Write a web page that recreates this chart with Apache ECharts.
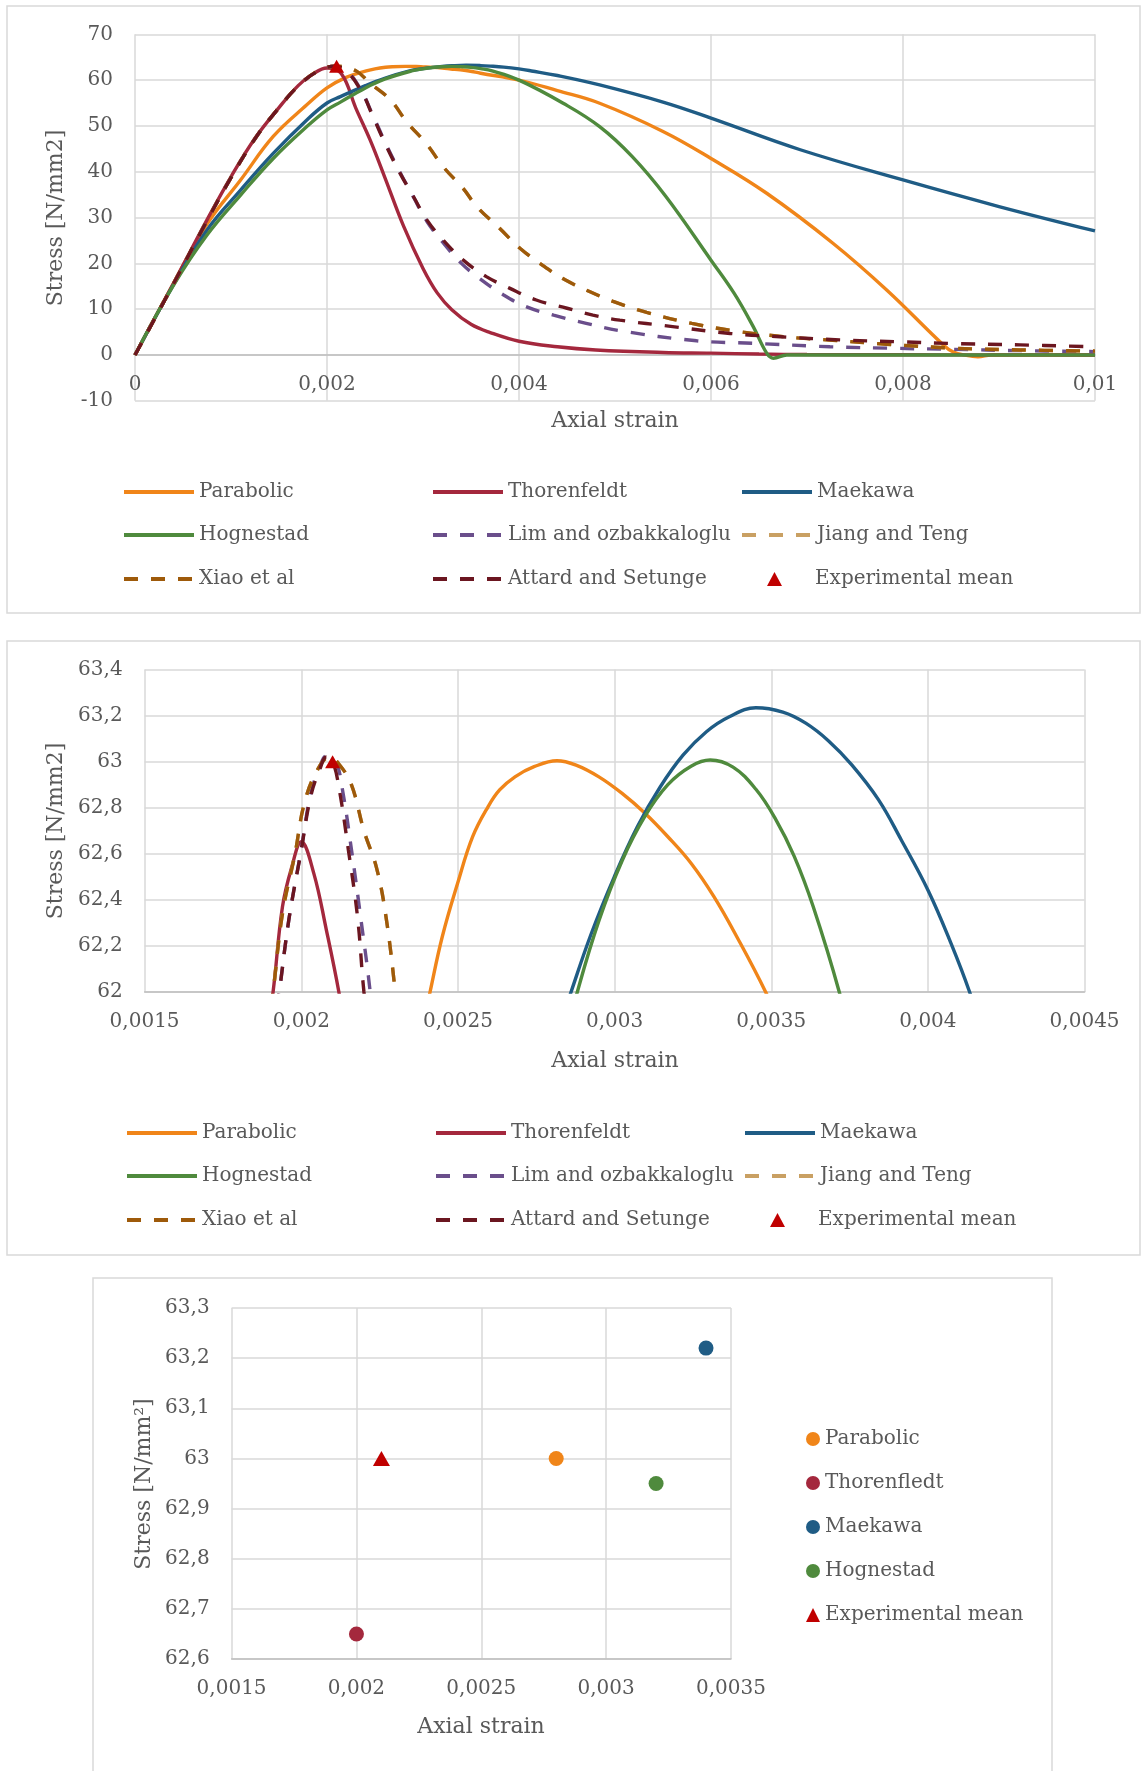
<!DOCTYPE html>
<html><head><meta charset="utf-8">
<script src="https://cdn.jsdelivr.net/npm/echarts@6/dist/echarts.min.js"></script>
<style>html,body{margin:0;padding:0;background:#fff}#c{width:1141px;height:1771px}</style>
</head><body><div id="c"></div>
<script>
// ---------- Panel 1 : full curves (strain, stress N/mm2) ----------
const PAR_X = [0,0.0004,0.00075,0.0011,0.00144,0.00179,0.002,0.0022,0.00241,0.0025,0.00261,0.00268,0.00282,0.00293,0.003,0.0031,0.0032,0.00329,0.00339,0.00348,0.0036,0.004,0.0044,0.00484,0.0055,0.006,0.00658,0.00727,0.00783,0.00842,0.00852,0.00866,0.00878,0.00892,0.01];
const PAR_Y = [0,15.6,28.6,38.2,47.7,54.6,58.3,60.6,62.0,62.46,62.82,62.93,63.0,62.96,62.89,62.78,62.63,62.44,62.24,62.0,61.5,60.0,57.7,54.95,48.8,42.9,35.3,24.4,14.2,2.2,0.7,-0.1,-0.4,0,0];

const THO_X = [0,0.0004,0.00075,0.001,0.00125,0.0015,0.0017,0.00185,0.002,0.00215,0.0023,0.00245,0.0026,0.0028,0.003,0.00315,0.0033,0.0035,0.0037,0.004,0.0044,0.0048,0.0055,0.006,0.0065,0.007,0.008,0.009,0.01];
const THO_Y = [0,15.6,29.5,38.9,47.3,54.0,58.8,61.3,62.65,61.4,53.9,46.9,38.9,28.0,18.9,13.5,9.9,6.7,4.9,3.0,1.8,1.1,0.55,0.4,0.2,0.1,0.05,0.02,0.01];

const MAE_X = [0,0.0004,0.00075,0.0011,0.00144,0.00179,0.002,0.00214,0.0024,0.0026,0.00286,0.003,0.0031,0.0032,0.0033,0.00345,0.0036,0.0037,0.00384,0.004,0.00413,0.0044,0.00484,0.0055,0.006,0.00693,0.008,0.009,0.01];
const MAE_Y = [0,15.3,27.3,36.0,44.0,51.3,55.0,56.4,58.8,60.4,62.0,62.5,62.77,62.99,63.13,63.234,63.17,63.06,62.84,62.44,62.0,61.0,58.95,55.2,51.7,44.8,38.2,32.4,27.07];

const HOG_X = [0,0.0004,0.00075,0.0011,0.00144,0.00179,0.002,0.00214,0.0024,0.0026,0.00288,0.003,0.0031,0.0032,0.0033,0.00341,0.0035,0.0036,0.00372,0.004,0.00446,0.00484,0.00518,0.00553,0.006,0.00624,0.00644,0.00658,0.00665,0.00679,0.0075,0.01];
const HOG_Y = [0,15.2,26.2,34.9,42.9,49.85,53.5,55.2,58.3,60.2,62.0,62.46,62.76,62.93,63.0,62.92,62.79,62.5,62.0,60.0,54.95,49.85,43.3,34.6,20.7,13.5,6.2,0.4,-0.7,0,0,0];

const LIM_X = [0,0.0004,0.00075,0.001,0.00125,0.0015,0.0017,0.0019,0.00208,0.00221,0.00236,0.00248,0.00262,0.00276,0.0029,0.00304,0.00321,0.0034,0.00359,0.00384,0.00408,0.00436,0.0047,0.00505,0.00585,0.00644,0.00724,0.00794,0.00852,0.00922,0.01];
const LIM_Y = [0,15.5,29.3,38.7,47.2,54.0,58.7,61.9,63.02,62.0,57.6,52.2,45.8,39.9,34.5,29.2,24.5,20.0,16.7,13.1,10.5,8.7,6.9,5.3,3.1,2.55,1.8,1.45,1.23,0.95,0.73];

const XIA_X = [0,0.0004,0.00075,0.001,0.00125,0.0015,0.0017,0.0019,0.00209,0.0023,0.00245,0.00266,0.00283,0.00304,0.00321,0.00342,0.00356,0.0038,0.00401,0.00425,0.00448,0.00474,0.00498,0.00533,0.0058,0.00623,0.00675,0.00727,0.00783,0.00852,0.00922,0.01];
const XIA_Y = [0,15.5,29.3,38.7,47.2,54.0,58.7,61.9,63.02,62.05,59.3,55.7,50.9,46.0,41.1,36.3,32.4,27.6,23.3,19.5,16.4,13.8,11.7,9.3,6.9,5.3,4.0,3.2,2.35,1.5,1.1,0.85];

const JIA_X = XIA_X;   // Jiang and Teng lies under Xiao et al
const JIA_Y = XIA_Y;

const ATT_X = [0,0.0004,0.00075,0.001,0.00125,0.0015,0.0017,0.0019,0.00208,0.0022,0.00236,0.00248,0.00262,0.00276,0.0029,0.00304,0.00321,0.00342,0.00366,0.0039,0.00418,0.0045,0.00477,0.00505,0.0056,0.0062,0.00672,0.00734,0.00794,0.00852,0.00922,0.01];
const ATT_Y = [0,15.5,29.3,38.7,47.2,54.0,58.7,61.9,63.02,62.0,57.5,52.0,45.5,39.7,34.6,29.5,25.1,20.7,17.1,14.6,12.0,10.2,8.7,7.6,6.2,4.7,3.97,3.3,2.9,2.5,2.2,1.8];

const EXP_X = [0.0021];
const EXP_Y = [63.0];

// ---------- Panel 2 : zoom near the peaks ----------
const Z_PAR_X = [0.0023,0.002411,0.00245,0.002499,0.002547,0.002596,0.002633,0.002682,0.002743,0.002816,0.002877,0.00295,0.003024,0.003097,0.00317,0.003244,0.003317,0.00339,0.003482,0.0036];
const Z_PAR_Y = [61.3,62.0,62.24,62.472,62.674,62.804,62.877,62.934,62.978,63.004,62.985,62.934,62.862,62.776,62.674,62.559,62.414,62.24,62.0,61.65];
const Z_THO_X = [0.00185,0.00191,0.00194,0.00197,0.002,0.00204,0.00208,0.00212,0.00217];
const Z_THO_Y = [61.4,62.0,62.37,62.544,62.652,62.515,62.27,62.0,61.6];
const Z_MAE_X = [0.0028,0.002861,0.002926,0.002999,0.003073,0.003146,0.003219,0.003293,0.003366,0.003451,0.003537,0.00361,0.003683,0.003757,0.003842,0.003915,0.004001,0.004074,0.004133,0.0042];
const Z_MAE_Y = [61.75,62.0,62.255,62.5,62.718,62.891,63.029,63.13,63.195,63.234,63.215,63.167,63.09,62.986,62.835,62.66,62.44,62.21,62.0,61.72];
const Z_HOG_X = [0.00282,0.002881,0.00295,0.003024,0.003097,0.00317,0.003244,0.003305,0.003378,0.003451,0.003512,0.003573,0.003634,0.003717,0.0038];
const Z_HOG_Y = [61.68,62.0,62.31,62.57,62.763,62.9,62.98,63.007,62.976,62.88,62.755,62.59,62.37,62.0,61.55];
const Z_LIM_X = [0.0019,0.00193,0.00196,0.002,0.00203,0.00206,0.00208,0.00211,0.00213,0.00216,0.00219,0.00222,0.00224];
const Z_LIM_Y = [61.7,62.0,62.31,62.62,62.86,62.98,63.025,63.0,62.89,62.62,62.32,62.0,61.7];
const Z_XIA_X = [0.00188,0.00191,0.00194,0.00198,0.00201,0.00205,0.00209,0.00212,0.00216,0.0022,0.00224,0.00227,0.0023,0.00233];
const Z_XIA_Y = [61.7,62.0,62.34,62.6,62.82,62.96,63.02,62.99,62.9,62.7,62.54,62.33,62.0,61.6];
const Z_JIA_X = Z_XIA_X;
const Z_JIA_Y = Z_XIA_Y;
const Z_ATT_X = [0.0019,0.00193,0.00196,0.002,0.00203,0.00206,0.00208,0.0021,0.00212,0.00215,0.00218,0.0022,0.00223];
const Z_ATT_Y = [61.7,62.0,62.31,62.616,62.848,62.97,63.02,63.0,62.89,62.62,62.32,62.0,61.65];

// ---------- Panel 3 : peak points ----------
const PK_NAMES = ['Parabolic','Thorenfledt','Maekawa','Hognestad'];
const PK_X = [0.0028,0.002,0.0034,0.0032];
const PK_Y = [63.0,62.65,63.22,62.95];

// ---------- names / colours ----------
const NAMES = ['Parabolic','Thorenfeldt','Maekawa','Hognestad','Lim and ozbakkaloglu','Jiang and Teng','Xiao et al','Attard and Setunge','Experimental mean'];
const COLORS = {
  'Parabolic':'#F08519','Thorenfeldt':'#A4283D','Thorenfledt':'#A4283D','Maekawa':'#1F5C85','Hognestad':'#4F8A3D',
  'Lim and ozbakkaloglu':'#6A4E8B','Jiang and Teng':'#C9A063','Xiao et al':'#9E5A0A','Attard and Setunge':'#6B1620',
  'Experimental mean':'#C00000'
};
const DASHED = {'Lim and ozbakkaloglu':1,'Jiang and Teng':1,'Xiao et al':1,'Attard and Setunge':1};

const FONT = 'DejaVu Serif';
const GREY = '#595959';
const pairs = (xs, ys) => xs.map((x, i) => [x, ys[i]]);
const fmt = v => parseFloat(Number(v).toFixed(6)).toString().replace('.', ',');

function lineS(name, xs, ys, gi) {
  const c = COLORS[name];
  return {
    type: 'line', name, xAxisIndex: gi, yAxisIndex: gi, data: pairs(xs, ys),
    symbol: 'none', smooth: 0.4, clip: true,
    lineStyle: { color: c, width: 3.4, type: DASHED[name] ? [14, 13] : 'solid' },
    itemStyle: { color: c }, emphasis: { disabled: true }, silent: true
  };
}
function expS(gi, size) {
  return {
    type: 'scatter', name: 'Experimental mean', xAxisIndex: gi, yAxisIndex: gi,
    data: pairs(EXP_X, EXP_Y), symbol: 'triangle', symbolSize: size,
    itemStyle: { color: COLORS['Experimental mean'], opacity: 1 }, z: 5, emphasis: { disabled: true }, silent: true
  };
}

const P1 = [PAR_X,PAR_Y,THO_X,THO_Y,MAE_X,MAE_Y,HOG_X,HOG_Y,LIM_X,LIM_Y,JIA_X,JIA_Y,XIA_X,XIA_Y,ATT_X,ATT_Y];
const P2 = [Z_PAR_X,Z_PAR_Y,Z_THO_X,Z_THO_Y,Z_MAE_X,Z_MAE_Y,Z_HOG_X,Z_HOG_Y,Z_LIM_X,Z_LIM_Y,Z_JIA_X,Z_JIA_Y,Z_XIA_X,Z_XIA_Y,Z_ATT_X,Z_ATT_Y];

const series = [];
for (let k = 0; k < 8; k++) series.push(lineS(NAMES[k], P1[2*k], P1[2*k+1], 0));
series.push(expS(0, [15, 13]));
for (let k = 0; k < 8; k++) series.push(lineS(NAMES[k], P2[2*k], P2[2*k+1], 1));
series.push(expS(1, [15, 13]));
PK_NAMES.forEach((n, i) => series.push({
  type: 'scatter', name: n, xAxisIndex: 2, yAxisIndex: 2, data: [[PK_X[i], PK_Y[i]]],
  symbol: 'circle', symbolSize: 15, itemStyle: { color: COLORS[n], opacity: 1 }, emphasis: { disabled: true }, silent: true
}));
series.push(expS(2, [17, 15]));

// ---------- axes ----------
const gridLine = { show: true, lineStyle: { color: '#D9D9D9', width: 1.5 } };
const lab = (m) => ({ color: GREY, fontFamily: FONT, fontSize: 20, margin: m, formatter: fmt, showMinLabel: true, showMaxLabel: true });
function xA(gi, min, max, iv, offset) {
  return { type: 'value', gridIndex: gi, min, max, interval: iv, position: 'bottom', offset: offset || 0,
    axisLine: { show: true, onZero: false, lineStyle: { color: '#BFBFBF', width: 1.5 } },
    axisTick: { show: false }, splitLine: gridLine, axisLabel: lab(20) };
}
function yA(gi, min, max, iv) {
  return { type: 'value', gridIndex: gi, min, max, interval: iv,
    axisLine: { show: false, onZero: false }, axisTick: { show: false }, splitLine: gridLine, axisLabel: lab(22) };
}

// ---------- legends ----------
const legends = [];
const legText = { color: GREY, fontFamily: FONT, fontSize: 20, lineHeight: 22 };
function gridLegend(lefts, rows) {
  NAMES.forEach((n, i) => {
    const left = lefts[i % 3], top = rows[Math.floor(i / 3)] - 11;
    if (n === 'Experimental mean') {
      legends.push({ data: [{ name: n, icon: 'triangle' }], left: left + 27, top,
        itemWidth: 15, itemHeight: 14, selectedMode: false, padding: 0,
        itemStyle: { opacity: 1 },
        textStyle: Object.assign({ padding: [0, 0, 0, 28] }, legText) });
    } else {
      legends.push({ data: [{ name: n }], left, top,
        itemWidth: 70, itemHeight: 14, selectedMode: false, padding: 0,
        itemStyle: { opacity: 0 }, lineStyle: { width: 4 }, textStyle: legText });
    }
  });
}
gridLegend([122, 431, 740], [492, 535, 579]);
gridLegend([125, 434, 743], [1133, 1176, 1220]);
legends.push({
  orient: 'vertical', left: 806, top: 1439 - 11, itemGap: 22, itemWidth: 14, itemHeight: 14,
  selectedMode: false, textStyle: legText, padding: 0, itemStyle: { opacity: 1 },
  data: PK_NAMES.map(n => ({ name: n, icon: 'circle' })).concat([{ name: 'Experimental mean', icon: 'triangle' }])
});

// ---------- titles & frames ----------
function txt(s, x, y, rot) {
  return { type: 'text', x, y, rotation: rot ? Math.PI / 2 : 0, silent: true,
    style: { text: s, fill: GREY, font: '22px "' + FONT + '"', align: 'center', verticalAlign: 'middle' } };
}
function frame(x, y, w, h) {
  return { type: 'rect', silent: true, shape: { x, y, width: w, height: h },
    style: { fill: null, stroke: '#D9D9D9', lineWidth: 1.5 } };
}

const option = {
  animation: false,
  backgroundColor: '#ffffff',
  textStyle: { fontFamily: FONT },
  grid: [
    { left: 135, top: 34.3, width: 960, height: 366.5, containLabel: false, outerBoundsMode: 'none' },
    { left: 144.6, top: 669.5, width: 940, height: 322.5, containLabel: false, outerBoundsMode: 'none' },
    { left: 231.6, top: 1308, width: 499.4, height: 351, containLabel: false, outerBoundsMode: 'none' }
  ],
  // panel 1: the horizontal axis crosses at stress 0 (offset up from -10 by 10 units of 4.58 px)
  xAxis: [xA(0, 0, 0.01, 0.002, -45.8), xA(1, 0.0015, 0.0045, 0.0005), xA(2, 0.0015, 0.0035, 0.0005)],
  yAxis: [yA(0, -10, 70, 10), yA(1, 62, 63.4, 0.2), yA(2, 62.6, 63.3, 0.1)],
  legend: legends,
  graphic: [
    frame(7, 6, 1133, 607), frame(7, 641, 1133, 614), frame(93, 1278, 959, 500),
    txt('Axial strain', 615, 421), txt('Stress [N/mm2]', 56, 218, true),
    txt('Axial strain', 615, 1061), txt('Stress [N/mm2]', 56, 831, true),
    txt('Axial strain', 481, 1727), txt('Stress [N/mm²]', 144, 1484, true)
  ],
  series
};
const chart = echarts.init(document.getElementById('c'), null, { renderer: 'canvas' });
chart.setOption(option);
</script></body></html>
